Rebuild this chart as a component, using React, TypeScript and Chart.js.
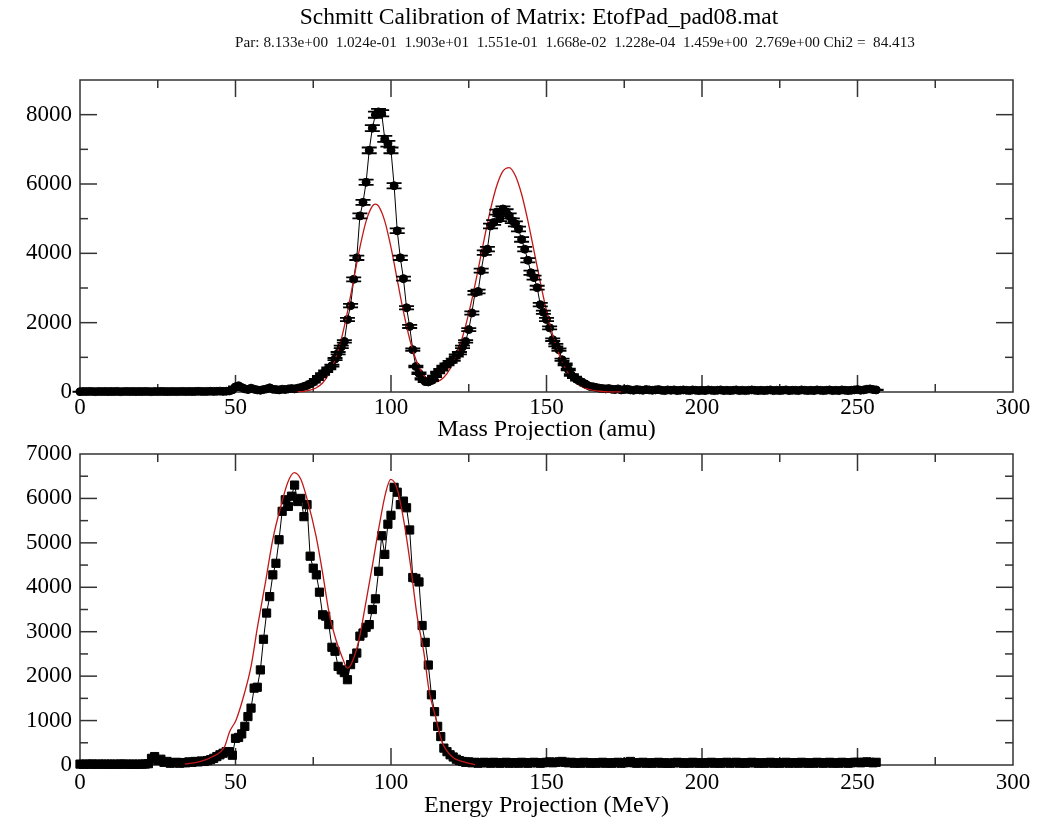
import React, { useEffect, useRef } from "react";
import { Chart, registerables } from "chart.js";

Chart.register(...registerables);

// ---------- Data ----------
const titleText = "Schmitt Calibration of Matrix: EtofPad_pad08.mat";
const parText =
  "Par: 8.133e+00  1.024e-01  1.903e+01  1.551e-01  1.668e-02  1.228e-04  1.459e+00  2.769e+00 Chi2 =  84.413";
const massAxisTitle = "Mass Projection (amu)";
const energyAxisTitle = "Energy Projection (MeV)";

const xTickValues = [0, 50, 100, 150, 200, 250, 300];
const massYTicks = [0, 2000, 4000, 6000, 8000];
const energyYTicks = [0, 1000, 2000, 3000, 4000, 5000, 6000, 7000];

// counts per mass bin, bins 0..256
const massCounts = [
  10, 15, 12, 18, 14, 10, 16, 12, 15, 11,
  14, 12, 18, 10, 13, 16, 12, 15, 11, 14,
  12, 16, 13, 10, 15, 12, 17, 14, 11, 13,
  15, 12, 14, 18, 12, 16, 13, 15, 20, 17,
  14, 18, 22, 16, 20, 25, 18, 22, 30, 60,
  150, 180, 130, 90, 70, 110, 80, 60, 50, 70,
  90, 120, 80, 70, 60, 80, 70, 90, 100, 90,
  110, 130, 160, 190, 230, 290, 360, 440, 520, 600,
  680, 760, 950, 1120, 1300, 1460, 2090, 2490, 3250, 3870,
  5080, 5470, 6050, 6970, 7610, 8000, 8080, 8040, 7300, 7160,
  6970, 5950, 4650, 3870, 3270, 2430, 1890, 1220, 735, 540,
  380, 300, 290, 330, 450, 560, 640, 735, 800, 870,
  930, 1050, 1120, 1300, 1460, 1800, 2280, 2860, 2900, 3500,
  4020, 4120, 4790, 4890, 5190, 5000, 5280, 5200, 5080, 4940,
  4850, 4700, 4400, 4120, 3800, 3440, 3300, 3010, 2520, 2300,
  2090, 1850, 1510, 1350, 1220, 930, 800, 650, 490, 420,
  350, 300, 250, 200, 160, 150, 130, 110, 100, 90,
  100, 80, 70, 90, 60, 70, 80, 60, 50, 70,
  60, 50, 70, 60, 50, 60, 70, 50, 40, 60,
  50, 60, 40, 50, 60, 50, 40, 60, 50, 40,
  50, 40, 60, 50, 40, 50, 60, 40, 50, 40,
  50, 60, 40, 50, 40, 50, 60, 50, 40, 50,
  40, 50, 60, 40, 50, 40, 50, 60, 40, 50,
  50, 40, 60, 50, 40, 50, 40, 60, 50, 40,
  50, 60, 40, 50, 40, 60, 50, 40, 50, 60,
  70, 50, 60, 80, 90, 70, 60,
];

// counts per energy bin, bins 0..256
const energyCounts = [
  20, 15, 20, 18, 22, 15, 20, 18, 20, 16,
  20, 18, 15, 22, 20, 18, 16, 20, 15, 18,
  20, 22, 30, 150, 190, 100, 130, 60, 80, 40,
  50, 60, 40, 55, 50, 70, 60, 80, 70, 90,
  80, 100, 120, 150, 190, 230, 265, 300, 300, 220,
  600, 620, 700, 870, 1090, 1280, 1730, 1750, 2140, 2830,
  3420, 3790, 4280, 4540, 5070, 5710, 5970, 5820, 6050, 6300,
  5930, 6000, 5590, 5860, 4700, 4430, 4280, 3890, 3380, 3350,
  3160, 2650, 2560, 2220, 2140, 2080, 1920, 2260, 2400, 2520,
  2900, 2970, 3100, 3160, 3500, 3740, 4360, 5160, 4740, 5420,
  5620, 6250, 6140, 5860, 5940, 5790, 5290, 4220, 4200, 4120,
  3140, 2760, 2250, 1580, 1200, 870, 640, 380, 300, 230,
  180, 130, 100, 80, 60, 70, 50, 60, 40, 50,
  60, 50, 40, 60, 50, 40, 50, 60, 40, 50,
  50, 40, 60, 50, 40, 50, 60, 50, 40, 50,
  60, 70, 50, 60, 70, 80, 60, 50, 60, 40,
  50, 40, 60, 50, 40, 50, 40, 50, 60, 40,
  50, 40, 50, 60, 40, 50, 60, 80, 50, 40,
  50, 60, 40, 50, 40, 50, 60, 40, 50, 40,
  40, 50, 60, 50, 40, 50, 40, 60, 50, 40,
  50, 40, 50, 60, 40, 50, 40, 50, 60, 40,
  50, 60, 40, 50, 40, 50, 60, 50, 40, 50,
  40, 50, 60, 40, 50, 40, 50, 60, 40, 50,
  50, 40, 60, 50, 40, 50, 40, 60, 50, 40,
  50, 60, 40, 50, 40, 60, 50, 40, 50, 60,
  60, 50, 60, 70, 60, 50, 60,
];

// fit curve (red)
const massFitX = [
  70, 72, 74, 76, 78, 80, 82, 84, 86, 88, 90, 92, 94, 95, 96, 98, 100, 102,
  104, 106, 108, 110, 112, 114, 116, 118, 120, 122, 124, 126, 128, 130, 132,
  134, 136, 138, 140, 142, 144, 146, 148, 150, 152, 154, 156, 158, 160, 162,
  164, 166, 168, 170, 172, 174,
];
const massFitY = [
  8, 21, 53, 122, 260, 511, 919, 1520, 2314, 3240, 4170, 4930, 5363, 5420,
  5363, 4930, 4170, 3240, 2318, 1529, 939, 553, 345, 285, 350, 532, 846, 1301,
  1910, 2663, 3525, 4426, 5268, 5948, 6371, 6475, 6238, 5703, 4945, 4066, 3172,
  2346, 1646, 1096, 693, 415, 236, 127, 65, 31, 14, 6, 2, 1,
];

const energyFitX = [
  33.7, 38.5, 42.7, 46.5, 48.1, 50.2, 52.9, 55, 57.1, 59.8, 62, 64.6, 66.8,
  68.9, 71, 73.2, 75.9, 78, 80.1, 82.3, 84.4, 86, 87.6, 89.7, 91.9, 94, 96.2,
  98.3, 99.9, 102, 104.2, 106.3, 108.4, 110.6, 112.2, 114.3, 116.4, 119.6,
  123.9, 127,
];
const energyFitY = [
  20, 75, 190, 415, 750, 1015, 1620, 2220, 3120, 4180, 5080, 5830, 6360, 6580,
  6430, 5940, 5150, 4330, 3420, 2820, 2410, 2180, 2330, 2820, 3650, 4480, 5380,
  6130, 6430, 6210, 5460, 4480, 3350, 2520, 1690, 1090, 525, 190, 60, 10,
];

// ---------- Styling ----------
const FONT = '"Liberation Serif", "Times New Roman", serif';
const FRAME = "#333333";
const FIT_RED = "#c01818";

const headerPlugin = {
  id: "header",
  afterDraw(chart: any, _args: any, opts: any) {
    if (!opts || !opts.show) return;
    const { ctx } = chart;
    ctx.save();
    ctx.fillStyle = "#000";
    ctx.textAlign = "center";
    ctx.textBaseline = "middle";
    ctx.font = `23.5px ${FONT}`;
    ctx.fillText(titleText, 539, 18);
    ctx.fillStyle = "#111";
    ctx.font = `15.2px ${FONT}`;
    ctx.fillText(parText, 575, 43);
    ctx.restore();
  },
};

const frameTicksPlugin = {
  id: "frameTicks",
  beforeDatasetsDraw(chart: any) {
    const { ctx, chartArea: a, scales } = chart;
    const xs = scales.x;
    const ys = scales.y;
    const MAJ = 17;
    const MIN = 8;
    ctx.save();
    ctx.strokeStyle = FRAME;
    ctx.lineWidth = 1.5;
    ctx.strokeRect(a.left, a.top, a.right - a.left, a.bottom - a.top);
    const line = (x1: number, y1: number, x2: number, y2: number) => {
      ctx.beginPath();
      ctx.moveTo(x1, y1);
      ctx.lineTo(x2, y2);
      ctx.stroke();
    };
    const withMinor = (vals: number[], max: number) => {
      const out: { v: number; major: boolean }[] = [];
      vals.forEach((v, i) => {
        out.push({ v, major: true });
        const next = i < vals.length - 1 ? vals[i + 1] : v + (vals[1] - vals[0]);
        const mid = (v + next) / 2;
        if (mid < max) out.push({ v: mid, major: false });
      });
      return out;
    };
    withMinor(xs.ticks.map((t: any) => t.value), xs.max).forEach(({ v, major }) => {
      const px = xs.getPixelForValue(v);
      if (px <= a.left + 1 || px >= a.right - 1) return;
      const len = major ? MAJ : MIN;
      line(px, a.bottom, px, a.bottom - len);
      line(px, a.top, px, a.top + len);
    });
    withMinor(ys.ticks.map((t: any) => t.value), ys.max).forEach(({ v, major }) => {
      const py = ys.getPixelForValue(v);
      if (py <= a.top + 1 || py >= a.bottom - 1) return;
      const len = major ? MAJ : MIN;
      line(a.left, py, a.left + len, py);
      line(a.right, py, a.right - len, py);
    });
    ctx.restore();
  },
};

const errorBarsPlugin = {
  id: "errorBars",
  afterDatasetsDraw(chart: any, _args: any, opts: any) {
    if (!opts || opts.datasetIndex === undefined) return;
    const ds = chart.data.datasets[opts.datasetIndex];
    const meta = chart.getDatasetMeta(opts.datasetIndex);
    const ys = chart.scales.y;
    const { ctx } = chart;
    ctx.save();
    ctx.strokeStyle = "#000";
    ctx.lineWidth = 1.8;
    const cap = 7.5;
    meta.data.forEach((el: any, j: number) => {
      const v = ds.data[j].y;
      const err = Math.sqrt(Math.max(v, 0));
      const x = el.x;
      const y1 = ys.getPixelForValue(v + err);
      const y2 = ys.getPixelForValue(Math.max(v - err, 0));
      ctx.beginPath();
      ctx.moveTo(x, y1);
      ctx.lineTo(x, y2);
      ctx.moveTo(x - cap, y1);
      ctx.lineTo(x + cap, y1);
      ctx.moveTo(x - cap, y2);
      ctx.lineTo(x + cap, y2);
      ctx.stroke();
    });
    ctx.restore();
  },
};

function makeConfig(opts: {
  fitX: number[];
  fitY: number[];
  counts: number[];
  yMax: number;
  yTicks: number[];
  xTitle: string;
  axisHeight: number;
  tickPad: number;
  titlePadBottom: number;
  square: boolean;
  withTitle: boolean;
  padTop: number;
}): any {
  const fitData = opts.fitX.map((x, i) => ({ x, y: opts.fitY[i] }));
  const pointData = opts.counts.map((y, i) => ({ x: i, y }));
  return {
    type: "scatter",
    data: {
      datasets: [
        {
          label: "fit",
          data: fitData,
          showLine: true,
          borderColor: FIT_RED,
          borderWidth: 1.3,
          pointRadius: 0,
          cubicInterpolationMode: "monotone",
          clip: false,
        },
        {
          label: "data",
          data: pointData,
          showLine: true,
          borderColor: "#000",
          borderWidth: 1,
          pointStyle: opts.square ? "rect" : "circle",
          pointRadius: opts.square ? 5.8 : 4,
          pointBackgroundColor: "#000",
          pointBorderColor: "#000",
          pointBorderWidth: 1,
          clip: false,
        },
      ],
    },
    options: {
      responsive: false,
      animation: false,
      events: [],
      layout: { padding: { left: 0, right: 24, top: opts.padTop, bottom: 0 } },
      plugins: {
        legend: { display: false },
        tooltip: { enabled: false },
        header: { show: opts.withTitle },
        errorBars: opts.square ? {} : { datasetIndex: 1 },
      },
      scales: {
        x: {
          type: "linear",
          min: 0,
          max: 300,
          afterBuildTicks: (s: any) => {
            s.ticks = xTickValues.map((v) => ({ value: v }));
          },
          afterFit: (s: any) => {
            s.height = opts.axisHeight;
            s.paddingLeft = 0;
            s.paddingRight = 0;
          },
          grid: { display: false, drawTicks: false },
          border: { display: false },
          ticks: {
            padding: opts.tickPad,
            color: "#000",
            font: { family: FONT, size: 23, lineHeight: 1.2 },
            maxRotation: 0,
            autoSkip: false,
            callback: (v: any) => String(v),
          },
          title: {
            display: true,
            text: opts.xTitle,
            color: "#000",
            font: { family: FONT, size: 24, lineHeight: 1 },
            padding: { top: 0, bottom: opts.titlePadBottom },
          },
        },
        y: {
          type: "linear",
          min: 0,
          max: opts.yMax,
          afterBuildTicks: (s: any) => {
            s.ticks = opts.yTicks.map((v) => ({ value: v }));
          },
          afterFit: (s: any) => {
            s.width = 80;
            s.paddingTop = 0;
            s.paddingBottom = 0;
          },
          grid: { display: false, drawTicks: false },
          border: { display: false },
          ticks: {
            padding: 8,
            color: "#000",
            autoSkip: false,
            font: { family: FONT, size: 23, lineHeight: 1.2 },
            callback: (v: any) => String(v),
          },
        },
      },
    },
    plugins: [frameTicksPlugin, errorBarsPlugin, headerPlugin],
  };
}

export default function App() {
  const topRef = useRef<HTMLCanvasElement | null>(null);
  const botRef = useRef<HTMLCanvasElement | null>(null);

  useEffect(() => {
    const top = new Chart(
      topRef.current as HTMLCanvasElement,
      makeConfig({
        fitX: massFitX,
        fitY: massFitY,
        counts: massCounts,
        yMax: 9000,
        yTicks: massYTicks,
        xTitle: massAxisTitle,
        axisHeight: 48,
        tickPad: 2.2,
        titlePadBottom: -2,
        square: false,
        withTitle: true,
        padTop: 80,
      })
    );
    const bot = new Chart(
      botRef.current as HTMLCanvasElement,
      makeConfig({
        fitX: energyFitX,
        fitY: energyFitY,
        counts: energyCounts,
        yMax: 7000,
        yTicks: energyYTicks,
        xTitle: energyAxisTitle,
        axisHeight: 60,
        tickPad: 4.2,
        titlePadBottom: 7,
        square: true,
        withTitle: false,
        padTop: 14,
      })
    );
    return () => {
      top.destroy();
      bot.destroy();
    };
  }, []);

  return (
    <div
      style={{
        position: "fixed",
        left: 0,
        top: 0,
        width: 1037,
        height: 825,
        background: "#fff",
      }}
    >
      <canvas
        ref={topRef}
        width={1037}
        height={440}
        style={{ position: "absolute", left: 0, top: 0, width: 1037, height: 440 }}
      />
      <canvas
        ref={botRef}
        width={1037}
        height={385}
        style={{ position: "absolute", left: 0, top: 440, width: 1037, height: 385 }}
      />
    </div>
  );
}
